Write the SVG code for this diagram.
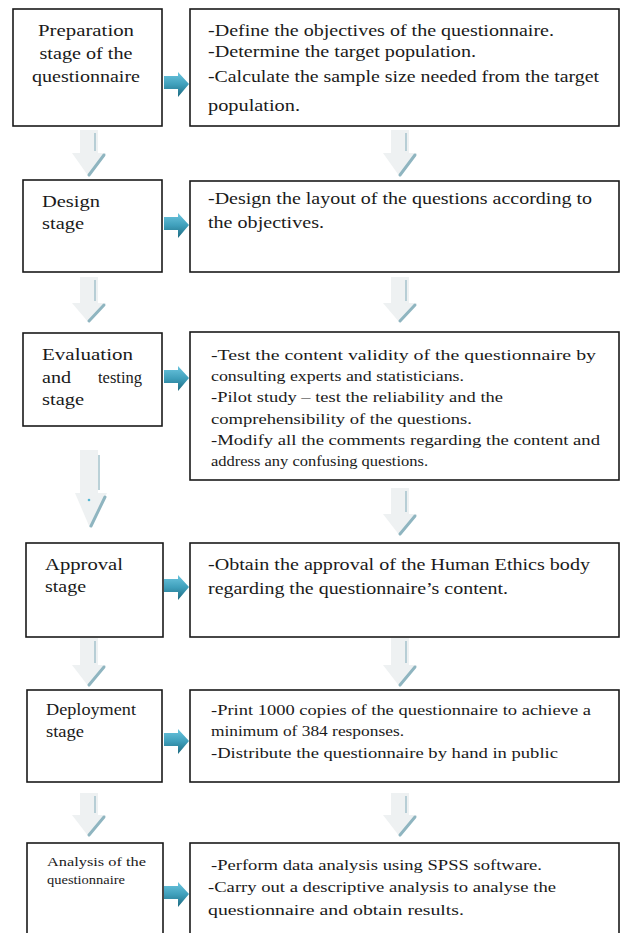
<svg xmlns="http://www.w3.org/2000/svg" width="623" height="933" viewBox="0 0 623 933">
<style>
.box{fill:#fff;stroke:#1a1a1a;stroke-width:1.6}
.t{font-family:"Liberation Serif","Times New Roman",serif;font-size:16px;fill:#1a1a1a}
.m{font-family:"Liberation Serif","Times New Roman",serif;font-size:15px;fill:#1a1a1a}
.s{font-family:"Liberation Serif","Times New Roman",serif;font-size:13.5px;fill:#1a1a1a}
.sh{fill:#eef1f2}
.ln{stroke:#a9c6ce;stroke-width:1.6;fill:none}
.hd{stroke:#8fb5c0;stroke-width:3;fill:none;stroke-linecap:round}
</style>
<defs>
<linearGradient id="bg" x1="0" y1="0" x2="0" y2="1">
<stop offset="0" stop-color="#6cc6df"/>
<stop offset="0.5" stop-color="#3f9fbb"/>
<stop offset="1" stop-color="#1d6a80"/>
</linearGradient>
<g id="ra"><polygon points="0,4 14,4 14,0 25,12 14,25 14,17 0,17" fill="url(#bg)"/></g>
</defs>
<rect width="623" height="933" fill="#fff"/>

<g id="connectors">
<use href="#ra" x="164" y="72"/>
<use href="#ra" x="164" y="213"/>
<use href="#ra" x="164" y="366"/>
<use href="#ra" x="164" y="575"/>
<use href="#ra" x="164" y="729"/>
<use href="#ra" x="164" y="882"/>
<g>
<polygon class="sh" points="80,130 98,130 98,153 106,153 89,177 72,153 80,153"/>
<line class="ln" x1="95" y1="133" x2="95" y2="151"/>
<line class="hd" x1="89" y1="175" x2="104" y2="155"/>
</g>
<g>
<polygon class="sh" points="80,277 98,277 98,303 106,303 89,323 72,303 80,303"/>
<line class="ln" x1="95" y1="280" x2="95" y2="301"/>
<line class="hd" x1="89" y1="321" x2="104" y2="305"/>
</g>
<g>
<polygon class="sh" points="80,450 98,450 98,493 107,493 90,528 75,493 80,493"/>
<line class="ln" x1="99" y1="455" x2="99" y2="490"/>
<line class="hd" x1="91" y1="526" x2="105" y2="497"/>
<circle cx="89" cy="500" r="1.3" fill="#56b7d3"/>
</g>
<g>
<polygon class="sh" points="80,638 98,638 98,665 106,665 89,687 72,665 80,665"/>
<line class="ln" x1="95" y1="641" x2="95" y2="663"/>
<line class="hd" x1="89" y1="685" x2="104" y2="667"/>
</g>
<g>
<polygon class="sh" points="80,793 98,793 98,815 106,815 89,837 72,815 80,815"/>
<line class="ln" x1="95" y1="796" x2="95" y2="813"/>
<line class="hd" x1="89" y1="835" x2="104" y2="817"/>
</g>
<g>
<polygon class="sh" points="391,130 409,130 409,153 417,153 400,177 383,153 391,153"/>
<line class="ln" x1="406" y1="133" x2="406" y2="151"/>
<line class="hd" x1="400" y1="175" x2="415" y2="155"/>
</g>
<g>
<polygon class="sh" points="391,277 409,277 409,303 417,303 400,323 383,303 391,303"/>
<line class="ln" x1="406" y1="280" x2="406" y2="301"/>
<line class="hd" x1="400" y1="321" x2="415" y2="305"/>
</g>
<g>
<polygon class="sh" points="391,488 409,488 409,514 417,514 400,536 383,514 391,514"/>
<line class="ln" x1="406" y1="491" x2="406" y2="512"/>
<line class="hd" x1="400" y1="534" x2="415" y2="516"/>
</g>
<g>
<polygon class="sh" points="391,638 409,638 409,665 417,665 400,687 383,665 391,665"/>
<line class="ln" x1="406" y1="641" x2="406" y2="663"/>
<line class="hd" x1="400" y1="685" x2="415" y2="667"/>
</g>
<g>
<polygon class="sh" points="391,793 409,793 409,815 417,815 400,837 383,815 391,815"/>
<line class="ln" x1="406" y1="796" x2="406" y2="813"/>
<line class="hd" x1="400" y1="835" x2="415" y2="817"/>
</g>
</g>

<g id="stage1">
<rect class="box" x="13" y="9" width="149" height="117"/>
<text class="t" x="86" y="36" text-anchor="middle" textLength="96" lengthAdjust="spacingAndGlyphs">Preparation</text>
<text class="t" x="86" y="59" text-anchor="middle" textLength="93" lengthAdjust="spacingAndGlyphs">stage of the</text>
<text class="t" x="86" y="82" text-anchor="middle" textLength="108" lengthAdjust="spacingAndGlyphs">questionnaire</text>
</g>
<g id="tasks1">
<rect class="box" x="190" y="9" width="429" height="117"/>
<text class="t" x="208" y="36" textLength="346" lengthAdjust="spacingAndGlyphs">-Define the objectives of the questionnaire.</text>
<text class="t" x="208" y="57" textLength="268" lengthAdjust="spacingAndGlyphs">-Determine the target population.</text>
<text class="t" x="208" y="82" textLength="391" lengthAdjust="spacingAndGlyphs">-Calculate the sample size needed from the target</text>
<text class="t" x="208" y="111" textLength="92" lengthAdjust="spacingAndGlyphs">population.</text>
</g>

<g id="stage2">
<rect class="box" x="23" y="180" width="139" height="92"/>
<text class="t" x="42" y="207" textLength="58" lengthAdjust="spacingAndGlyphs">Design</text>
<text class="t" x="42" y="229" textLength="42" lengthAdjust="spacingAndGlyphs">stage</text>
</g>
<g id="tasks2">
<rect class="box" x="190" y="181" width="429" height="91"/>
<text class="t" x="208" y="204" textLength="384" lengthAdjust="spacingAndGlyphs">-Design the layout of the questions according to</text>
<text class="t" x="208" y="228" textLength="116" lengthAdjust="spacingAndGlyphs">the objectives.</text>
</g>

<g id="stage3">
<rect class="box" x="23" y="333" width="139" height="93"/>
<text class="t" x="42" y="360" textLength="91" lengthAdjust="spacingAndGlyphs">Evaluation</text>
<text class="t" x="42" y="383" textLength="29" lengthAdjust="spacingAndGlyphs">and</text>
<text class="t" x="98" y="383" textLength="44" lengthAdjust="spacingAndGlyphs">testing</text>
<text class="t" x="42" y="405" textLength="42" lengthAdjust="spacingAndGlyphs">stage</text>
</g>
<g id="tasks3">
<rect class="box" x="190" y="332" width="429" height="148"/>
<text class="m" x="211" y="360" textLength="385" lengthAdjust="spacingAndGlyphs">-Test the content validity of the questionnaire by</text>
<text class="m" x="211" y="381" textLength="253" lengthAdjust="spacingAndGlyphs">consulting experts  and statisticians.</text>
<text class="m" x="211" y="402" textLength="292" lengthAdjust="spacingAndGlyphs">-Pilot study – test the reliability and the</text>
<text class="m" x="211" y="424" textLength="261" lengthAdjust="spacingAndGlyphs">comprehensibility  of the questions.</text>
<text class="m" x="211" y="445" textLength="389" lengthAdjust="spacingAndGlyphs">-Modify all the comments regarding  the content and</text>
<text class="m" x="211" y="466" textLength="217" lengthAdjust="spacingAndGlyphs">address  any confusing questions.</text>
</g>

<g id="stage4">
<rect class="box" x="26" y="543" width="137" height="94"/>
<text class="t" x="45" y="570" textLength="78" lengthAdjust="spacingAndGlyphs">Approval</text>
<text class="t" x="45" y="592" textLength="41" lengthAdjust="spacingAndGlyphs">stage</text>
</g>
<g id="tasks4">
<rect class="box" x="190" y="543" width="429" height="94"/>
<text class="t" x="208" y="570" textLength="382" lengthAdjust="spacingAndGlyphs">-Obtain the approval of the Human Ethics body</text>
<text class="t" x="208" y="594" textLength="300" lengthAdjust="spacingAndGlyphs">regarding the questionnaire’s content.</text>
</g>

<g id="stage5">
<rect class="box" x="27" y="690" width="135" height="92"/>
<text class="t" x="46" y="715" textLength="90" lengthAdjust="spacingAndGlyphs">Deployment</text>
<text class="t" x="46" y="737" textLength="38" lengthAdjust="spacingAndGlyphs">stage</text>
</g>
<g id="tasks5">
<rect class="box" x="190" y="690" width="429" height="92"/>
<text class="m" x="211" y="715" textLength="380" lengthAdjust="spacingAndGlyphs">-Print 1000 copies of the questionnaire to achieve a</text>
<text class="m" x="211" y="736" textLength="193" lengthAdjust="spacingAndGlyphs">minimum of 384 responses.</text>
<text class="m" x="211" y="758" textLength="347" lengthAdjust="spacingAndGlyphs">-Distribute the questionnaire by hand in public</text>
</g>

<g id="stage6">
<rect class="box" x="27" y="843" width="136" height="100"/>
<text class="s" x="47" y="866" textLength="99" lengthAdjust="spacingAndGlyphs">Analysis of the</text>
<text class="s" x="47" y="884" textLength="78" lengthAdjust="spacingAndGlyphs">questionnaire</text>
</g>
<g id="tasks6">
<rect class="box" x="190" y="843" width="429" height="100"/>
<text class="m" x="211" y="870" textLength="331" lengthAdjust="spacingAndGlyphs">-Perform  data analysis using SPSS software.</text>
<text class="m" x="208" y="892" textLength="348" lengthAdjust="spacingAndGlyphs">-Carry  out a descriptive analysis to analyse the</text>
<text class="m" x="208" y="915" textLength="256" lengthAdjust="spacingAndGlyphs">questionnaire and obtain results.</text>
</g>
</svg>
